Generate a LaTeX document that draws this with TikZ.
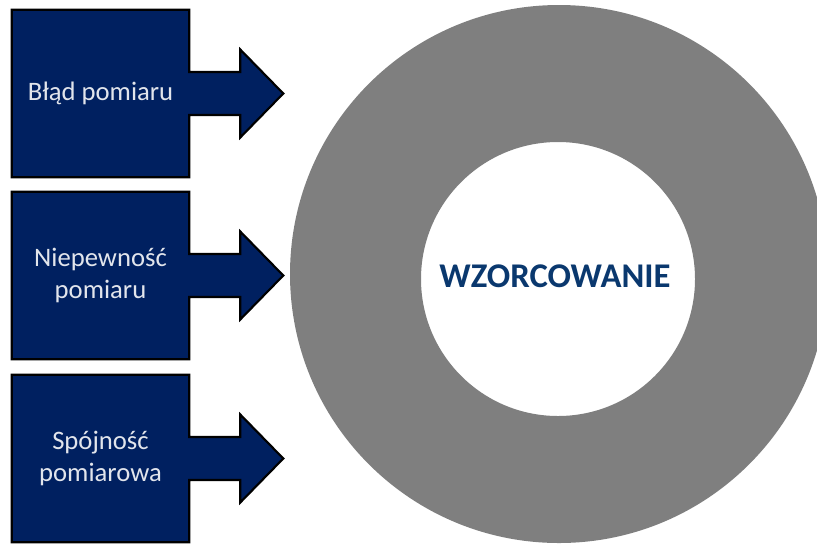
\documentclass[tikz,border=0pt]{standalone}
\usepackage{fontspec}
\setmainfont{Carlito}
\usetikzlibrary{calc, backgrounds}

\definecolor{navy}{RGB}{0,32,96}
\definecolor{ringgray}{RGB}{127,127,127}
\definecolor{titleblue}{RGB}{10,56,110}
\definecolor{labelwhite}{RGB}{226,229,236}

\tikzset{
  box/.style={minimum width=132.75pt, minimum height=125.25pt, inner sep=0pt,
    align=center, text=labelwhite, font=\fontsize{20}{23.5}\selectfont},
  callout/.style={fill=navy, draw=black, line width=1.6pt, line join=miter},
}

\begin{document}
\begin{tikzpicture}[x=0.75pt, y=-0.75pt]

    \useasboundingbox (0,0) rectangle (817,544);

    % Draw the ring
    \begin{scope}
        \clip (0,0) rectangle (817,544);
        \fill[ringgray, even odd rule] (559,274) circle (201.75pt) (558,279) circle (102.75pt);
    \end{scope}
    \node[font=\bfseries\fontsize{26}{30}\selectfont, text=titleblue] (wzor) at (555,276) {WZORCOWANIE};

    % Label the boxes
    \node[box] (blad) at (100.5,93.5) {Błąd pomiaru};
    \node[box] (niep) at (100.5,275.5) {Niepewność\\pomiaru};
    \node[box] (spoj) at (100.5,458.5) {Spójność\\pomiarowa};

    % Draw the boxes with their arrows
    \begin{pgfonlayer}{background}
        \foreach \b in {blad, niep, spoj}
            \draw[callout] (\b.south west) -- (\b.north west) -- (\b.north east)
                -- ($(\b.east)+(0,-21.5)$) -- ($(\b.east)+(51,-21.5)$) -- ($(\b.east)+(51,-44)$)
                -- ($(\b.east)+(94,0)$)
                -- ($(\b.east)+(51,44)$) -- ($(\b.east)+(51,21.5)$) -- ($(\b.east)+(0,21.5)$)
                -- (\b.south east) -- cycle;
    \end{pgfonlayer}

\end{tikzpicture}
\end{document}
